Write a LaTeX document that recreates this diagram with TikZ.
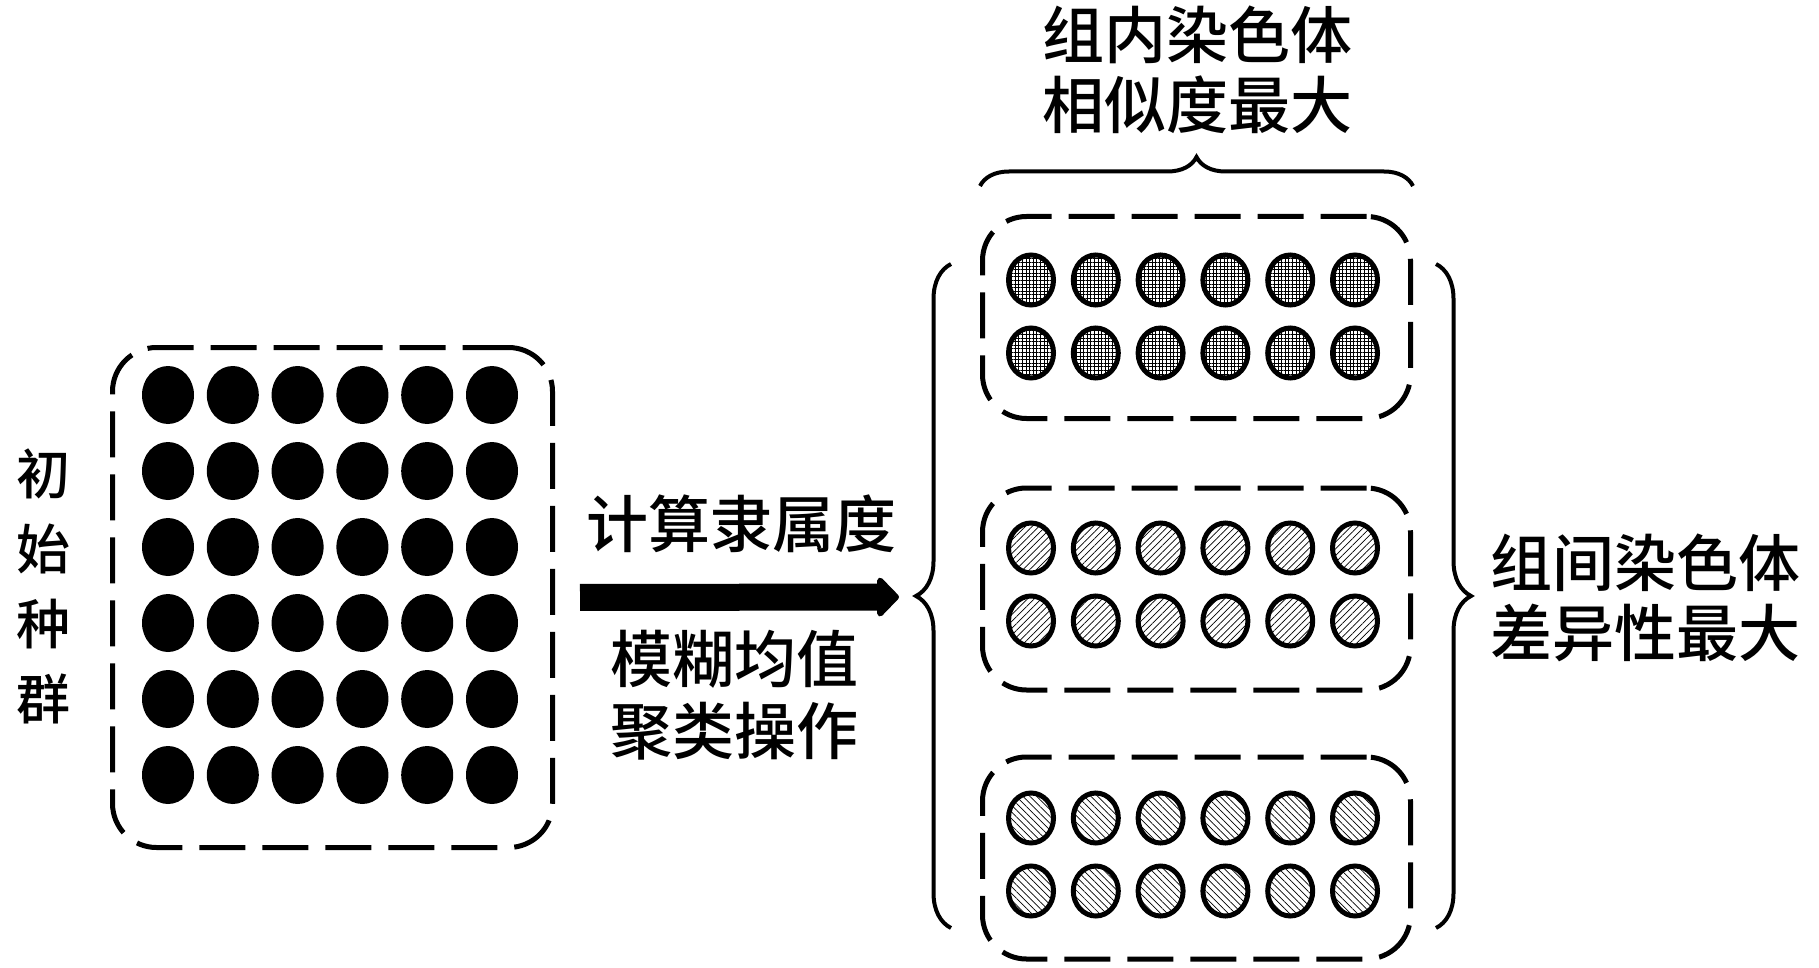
\documentclass[tikz,border=0pt]{standalone}
\usepackage{fontspec}
\usepackage{tikz}
\usetikzlibrary{arrows.meta,positioning,shapes.geometric,patterns.meta,decorations.pathreplacing,calc}
\newfontfamily\cjk[BoldFont={Noto Sans CJK SC Medium}]{Noto Sans CJK SC}
\tikzset{
  popdot/.style={ellipse,fill=black,inner sep=0pt,minimum width=26pt,minimum height=29pt},
  chrom/.style={ellipse,draw=black,line width=2.5pt,inner sep=0pt,
                minimum width=22.5pt,minimum height=25pt},
  chromgrid/.style={chrom,pattern={Hatch[distance=1.8pt,line width=0.35pt]}},
  chromne/.style={chrom,pattern={Lines[angle=45,distance=2.4pt,line width=0.35pt]}},
  chromnw/.style={chrom,pattern={Lines[angle=-45,distance=2.4pt,line width=0.35pt]}},
  dashbox/.style={rectangle,draw=black,line width=2.5pt,rounded corners=22pt,
                  dash pattern=on 23pt off 8.5pt,inner sep=0pt},
  grpbox/.style={dashbox,minimum width=214pt,minimum height=101pt},
  bigarrow/.style={-{Triangle[length=11.5pt,width=23pt,round]},line width=13.5pt},
  curly/.style={decorate,decoration={brace,amplitude=#1},line width=2pt},
  cjktext/.style={font=\cjk\bfseries\fontsize{31pt}{35pt}\selectfont,align=center,inner sep=0pt},
  poptext/.style={font=\cjk\bfseries\fontsize{27pt}{37.5pt}\selectfont,align=center,inner sep=0pt},
}
\begin{document}
\begin{tikzpicture}[x=0.5pt,y=-0.5pt]
  \useasboundingbox (0,0) rectangle (1819,968);
  % initial population
  \node[dashbox,minimum width=220pt,minimum height=250pt] (pop) at (332.5,597.5) {};
  \foreach \r in {1,...,6}
    \foreach \c in {1,...,6}
      \node[popdot] (p-\r-\c) at ({168+64.8*(\c-1)},{395+76*(\r-1)}) {};
  \node[poptext] (tpop) at (44,586) {初\\始\\种\\群};
  % three clustered groups
  \node[grpbox] (grp1) at (1196.5,317.5) {};
  \node[grpbox] (grp2) at (1196.5,589) {};
  \node[grpbox] (grp3) at (1196.5,858) {};
  \foreach \g/\y/\s in {1/280/chromgrid,2/548/chromne,3/818/chromnw}
    \foreach \r in {0,1}
      \foreach \c in {1,...,6}
        \node[\s] (g\g-\r-\c) at ({1031+64.8*(\c-1)},{\y+73*\r}) {};
  % braces
  \coordinate (ltip) at (916,597);
  \draw[curly=17.5pt] (951,928) -- (951,264);
  \draw[curly=17.5pt] (1436,264) -- (1436,928);
  \draw[curly=14.5pt] (980,186) -- (1413,186);
  % clustering step
  \draw[bigarrow,shorten <=12.5pt,shorten >=8.5pt] (pop.east) -- (ltip);
  \node[cjktext] (tcalc) at (741,524) {计算隶属度};
  \node[cjktext,font=\cjk\bfseries\fontsize{31pt}{36pt}\selectfont] (tfcm) at (734,695) {模糊均值\\聚类操作};
  \node[cjktext] (tinner) at (1197,70) {组内染色体\\相似度最大};
  \node[cjktext] (tinter) at (1645,598) {组间染色体\\差异性最大};
\end{tikzpicture}
\end{document}
